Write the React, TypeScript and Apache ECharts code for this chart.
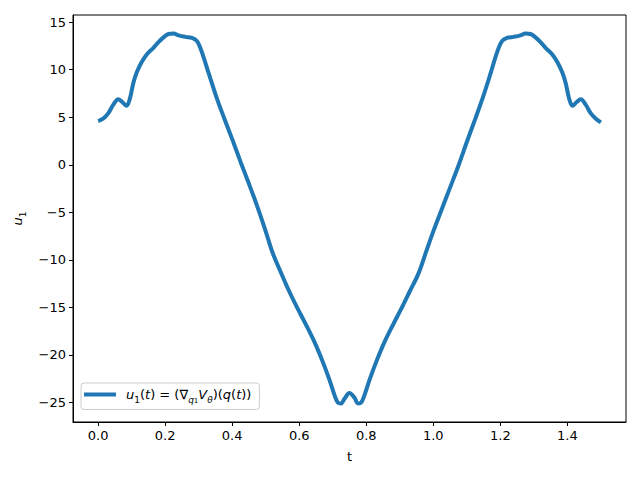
import React, { useEffect, useRef } from "react";
import * as echarts from "echarts";

const tValues = [
  0.0, 0.015, 0.03, 0.045, 0.06, 0.072, 0.085, 0.095, 0.105, 0.115, 0.13, 0.145,
  0.165, 0.18, 0.195, 0.21, 0.225, 0.24, 0.26, 0.28, 0.295, 0.31, 0.33, 0.355,
  0.375, 0.4, 0.425, 0.45, 0.475, 0.5, 0.52, 0.545, 0.57, 0.595, 0.62, 0.645,
  0.67, 0.69, 0.705, 0.715, 0.725, 0.735, 0.75, 0.765, 0.775, 0.785, 0.795,
  0.81, 0.83, 0.855, 0.88, 0.905, 0.93, 0.955, 0.98, 1.0, 1.025, 1.05, 1.075,
  1.1, 1.125, 1.15, 1.17, 1.19, 1.205, 1.22, 1.24, 1.26, 1.275, 1.29, 1.305,
  1.32, 1.335, 1.355, 1.37, 1.385, 1.395, 1.405, 1.415, 1.428, 1.44, 1.455,
  1.47, 1.485, 1.5,
];
const uValues = [
  4.6, 4.85, 5.4, 6.3, 6.9, 6.6, 6.2, 7.0, 8.6, 9.7, 10.8, 11.6,
  12.3, 12.9, 13.4, 13.75, 13.8, 13.6, 13.45, 13.35, 13.0, 11.8, 9.6, 6.9,
  5.0, 2.7, 0.3, -2.0, -4.4, -7.0, -9.2, -11.3, -13.3, -15.1, -16.8, -18.6,
  -20.7, -22.6, -24.2, -25.0, -25.1, -24.6, -24.0, -24.5, -25.1, -25.0, -24.2,
  -22.6, -20.7, -18.6, -16.8, -15.1, -13.3, -11.5, -9.0, -7.0, -4.7, -2.4, -0.1,
  2.4, 4.8, 7.3, 9.5, 11.8, 13.0, 13.35, 13.45, 13.6, 13.8, 13.75, 13.4,
  12.9, 12.3, 11.6, 10.8, 9.7, 8.6, 7.0, 6.2, 6.6, 6.9, 6.3,
  5.4, 4.85, 4.45,
];
const xTicks = [0.0, 0.2, 0.4, 0.6, 0.8, 1.0, 1.2, 1.4];
const yTicks = [-25, -20, -15, -10, -5, 0, 5, 10, 15];
const seriesName = "u1(t) = (∇q1 Vθ)(q(t))";

const FONT = "DejaVu Sans";

export default function App() {
  const ref = useRef<HTMLDivElement>(null);
  useEffect(() => {
    document.body.style.margin = "0";
    const chart = echarts.init(ref.current!, null, { renderer: "svg" });
    const data = tValues.map((t, i) => [t, uValues[i]]);
    const mathRich = {
      n: { fontFamily: FONT, fontSize: 13, color: "#000", verticalAlign: "middle", lineHeight: 20 },
      i: { fontFamily: FONT, fontSize: 13, fontStyle: "italic", color: "#000", verticalAlign: "middle", lineHeight: 20 },
      s: { fontFamily: FONT, fontSize: 9, color: "#000", verticalAlign: "bottom", lineHeight: 20 },
      si: { fontFamily: FONT, fontSize: 9, fontStyle: "italic", color: "#000", verticalAlign: "bottom", lineHeight: 20 },
      ss: { fontFamily: FONT, fontSize: 7, color: "#000", verticalAlign: "bottom", lineHeight: 17 },
    };
    chart.setOption({
      animation: false,
      backgroundColor: "#fff",
      grid: {
        left: 73,
        right: 14,
        top: 15,
        bottom: 58,
        show: true,
        borderColor: "#000",
        borderWidth: 1,
        backgroundColor: "transparent",
      },
      xAxis: {
        type: "value",
        min: -0.075,
        max: 1.575,
        name: "t",
        nameLocation: "middle",
        nameGap: 28,
        nameTextStyle: { fontFamily: FONT, fontSize: 13, color: "#000" },
        splitLine: { show: false },
        axisLine: { show: true, onZero: false, lineStyle: { color: "#000", width: 1 } },
        axisTick: { show: true, length: 4, lineStyle: { color: "#000" }, customValues: xTicks },
        axisLabel: {
          margin: 7,
          fontFamily: FONT,
          fontSize: 13,
          color: "#000",
          customValues: xTicks,
          formatter: (v: number) => v.toFixed(1),
        },
      },
      yAxis: {
        type: "value",
        min: -27.05,
        max: 15.75,
        name: "{i|u}{s|1}",
        nameLocation: "middle",
        nameGap: 46,
        nameTextStyle: { rich: mathRich },
        splitLine: { show: false },
        axisLine: { show: true, onZero: false, lineStyle: { color: "#000", width: 1 } },
        axisTick: { show: true, length: 4, lineStyle: { color: "#000" }, customValues: yTicks },
        axisLabel: {
          margin: 7,
          fontFamily: FONT,
          fontSize: 13,
          color: "#000",
          customValues: yTicks,
          formatter: (v: number) => (v < 0 ? "\u2212" + Math.abs(v) : String(v)),
        },
      },
      legend: {
        left: 81,
        top: 383,
        orient: "vertical",
        icon: "rect",
        itemWidth: 32,
        itemHeight: 4,
        padding: [5, 8, 5, 3],
        borderColor: "#cccccc",
        borderWidth: 1,
        borderRadius: 3,
        backgroundColor: "rgba(255,255,255,0.8)",
        formatter: () =>
          "{i|u}{s|1}{n|(}{i|t}{n|) = (∇}{si|q}{ss|1}{i|V}{si|θ}{n|)(}{i|q}{n|(}{i|t}{n|))}",
        textStyle: { padding: [0, 0, 0, 5], rich: mathRich },
      },
      series: [
        {
          name: seriesName,
          type: "line",
          data,
          smooth: 0.35,
          showSymbol: false,
          symbol: "none",
          lineStyle: { color: "#1f77b4", width: 4 },
          itemStyle: { color: "#1f77b4" },
        },
      ],
    });
    return () => chart.dispose();
  }, []);
  return <div ref={ref} style={{ width: 640, height: 480 }} />;
}
